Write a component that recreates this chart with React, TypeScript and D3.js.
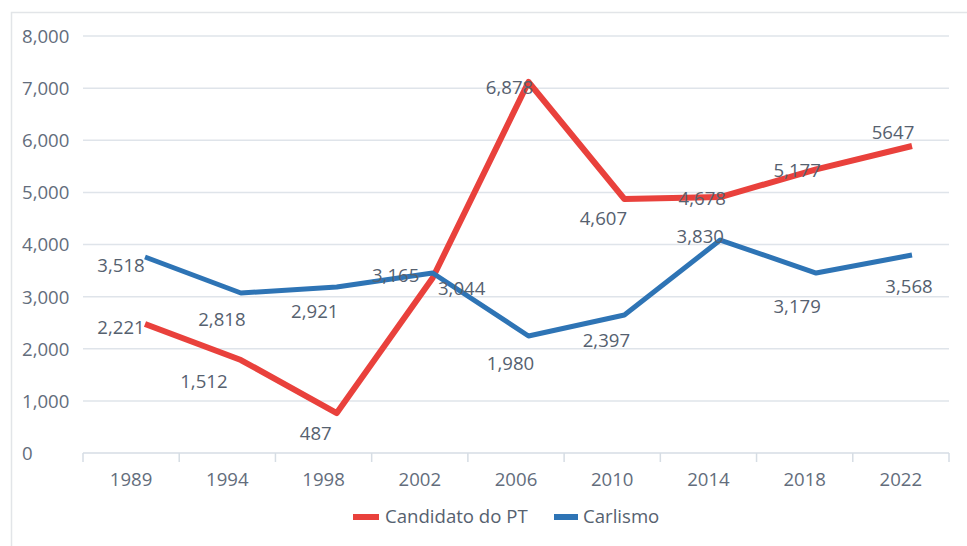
import React from "react";
import * as d3 from "d3";

const years = ["1989", "1994", "1998", "2002", "2006", "2010", "2014", "2018", "2022"];
const yTicks = [0, 1000, 2000, 3000, 4000, 5000, 6000, 7000, 8000];

// plotted positions (as drawn in the picture)
const ptValues = [2475, 1784, 767, 3357, 7118, 4873, 4911, 5440, 5890];
const carlismoValues = [3760, 3070, 3185, 3453, 2245, 2647, 4086, 3453, 3799];

// data label texts
const ptLabels = ["2,221", "1,512", "487", "3,044", "6,878", "4,607", "4,678", "5,177", "5647"];
const carlismoLabels = ["3,518", "2,818", "2,921", "3,165", "1,980", "2,397", "3,830", "3,179", "3,568"];

// label placement offsets relative to the point
const ptLabelDx = [-24, -37, -21, 29, -19, -21, -18, -19, -19];
const ptLabelDy = [5, 23, 22, 12, 7, 21, 3, 3, -12];
const carlismoLabelDx = [-24, -19, -22, -37, -18, -18, -20, -19, -3];
const carlismoLabelDy = [10, 28, 26, 4, 29, 27, -2, 35, 33];

const W = 967;
const H = 546;
const FONT = "'Open Sans', 'Noto Sans', sans-serif";
const FS = 18.6;
const TEXT = "#56616f";
const AXIS_TEXT = "#636d7c";
const RED = "#e9413c";
const BLUE = "#2e74b5";

export default function App() {
  const y = d3.scaleLinear().domain([0, 8000]).range([453, 36]);
  const xBand = d3.scaleBand().domain(years).range([83, 949]).padding(0);
  const xPt = d3.scalePoint().domain(years).range([145, 912]);

  const line = d3
    .line<number>()
    .x((_, i) => xPt(years[i]) as number)
    .y((d) => y(d));

  const series = [
    { name: "Candidato do PT", values: ptValues, labels: ptLabels, dx: ptLabelDx, dy: ptLabelDy, color: RED, width: 6 },
    { name: "Carlismo", values: carlismoValues, labels: carlismoLabels, dx: carlismoLabelDx, dy: carlismoLabelDy, color: BLUE, width: 5 },
  ];

  const tickEdges = [...years.map((yr) => xBand(yr) as number), 949];

  return (
    <svg width={W} height={H} style={{ position: "absolute", left: 0, top: 0, background: "#fff" }}>
      <rect x={0} y={0} width={W} height={H} fill="#fff" />
      <rect x={11.5} y={12.5} width={W + 20} height={H + 20} fill="none" stroke="#e2e5e8" strokeWidth={1.5} />
      {yTicks.map((t) => (
        <g key={t}>
          {t > 0 && (
            <line x1={83} x2={949} y1={y(t)} y2={y(t)} stroke="#dfe4ea" strokeWidth={1.5} />
          )}
          <text x={22} y={y(t) + 2} dominantBaseline="middle" fontFamily={FONT} fontSize={FS} fill={AXIS_TEXT}>
            {d3.format(",")(t)}
          </text>
        </g>
      ))}
      <line x1={83} x2={949} y1={y(0)} y2={y(0)} stroke="#d6dde4" strokeWidth={1.5} />
      {tickEdges.map((tx, i) => (
        <line key={i} x1={tx} x2={tx} y1={y(0)} y2={y(0) + 9} stroke="#d6dde4" strokeWidth={1.5} />
      ))}
      {years.map((yr) => (
        <text
          key={yr}
          x={(xBand(yr) as number) + xBand.bandwidth() / 2}
          y={481}
          textAnchor="middle"
          dominantBaseline="middle"
          fontFamily={FONT}
          fontSize={FS}
          fill={AXIS_TEXT}
        >
          {yr}
        </text>
      ))}
      {series.map((s) => (
        <path key={s.name} d={line(s.values) || ""} fill="none" stroke={s.color} strokeWidth={s.width} strokeLinejoin="round" />
      ))}
      {series.map((s) =>
        s.values.map((v, i) => (
          <text
            key={s.name + i}
            x={(xPt(years[i]) as number) + s.dx[i]}
            y={y(v) + s.dy[i]}
            textAnchor="middle"
            dominantBaseline="middle"
            fontFamily={FONT}
            fontSize={FS}
            fill={TEXT}
          >
            {s.labels[i]}
          </text>
        ))
      )}
      <g>
        <line x1={353} x2={379} y1={517} y2={517} stroke={RED} strokeWidth={6} />
        <text x={385} y={518} dominantBaseline="middle" fontFamily={FONT} fontSize={FS} fill={TEXT}>
          Candidato do PT
        </text>
        <line x1={554} x2={578} y1={517} y2={517} stroke={BLUE} strokeWidth={6} />
        <text x={583} y={518} dominantBaseline="middle" fontFamily={FONT} fontSize={FS} fill={TEXT}>
          Carlismo
        </text>
      </g>
    </svg>
  );
}
